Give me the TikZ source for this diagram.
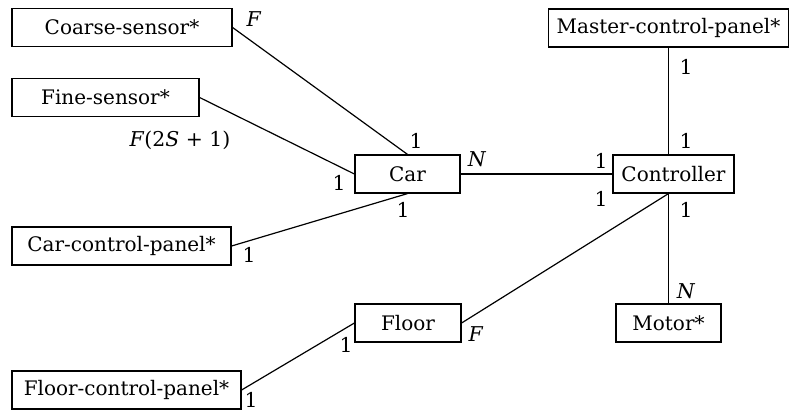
\documentclass[tikz,border=0pt]{standalone}
\usepackage{fontspec}
\setmainfont{DejaVu Serif}
\usetikzlibrary{positioning}
\tikzset{
  entity/.style={
    draw,
    line width=0.6pt,
    inner sep=0pt,
    minimum height=19pt,
    align=center,
    font=\fontsize{10}{12}\selectfont
  },
  mult/.style={
    inner sep=0pt,
    font=\fontsize{10.2}{12}\selectfont
  },
  link/.style={
    line width=0.6pt
  }
}

\begin{document}
\begin{tikzpicture}[x=0.5pt,y=-0.5pt]
\useasboundingbox (0,0) rectangle (789,411);
% entities
\node[entity, minimum width=110pt] (coarse) at (122,27.5) {Coarse-sensor*};
\node[entity, minimum width=93.5pt] (fine) at (105.5,97.5) {Fine-sensor*};
\node[entity, minimum width=109.5pt] (carpanel) at (121.5,246) {Car-control-panel*};
\node[entity, minimum width=114.5pt] (floorpanel) at (126.5,390) {Floor-control-panel*};
\node[entity, minimum width=120pt] (master) at (668.5,28) {Master-control-panel*};
\node[entity, minimum width=52.5pt] (car) at (407.5,174) {Car};
\node[entity, minimum width=60.5pt] (ctrl) at (673.5,174) {Controller};
\node[entity, minimum width=53pt] (floor) at (408,323) {Floor};
\node[entity, minimum width=52.5pt] (motor) at (668.5,323) {Motor*};
% relationships
\draw[link] (coarse.east) -- (car.north);
\draw[link] (fine.east) -- (car.west);
\draw[link] (carpanel.east) -- (car.south);
\draw[link] (floorpanel.east) -- (floor.west);
\draw[link] (car.east) -- (ctrl.west);
\draw[link] (floor.east) -- (motor.north |- ctrl.south);
\draw[link] (master.south) -- (master.south |- ctrl.north);
\draw[link] (motor.north |- ctrl.south) -- (motor.north);
% multiplicities
\node[mult] (m1) at (254,19) {\textit{F}};
\node[mult] (m2) at (180,140) {\textit{F}(2\textit{S} + 1)};
\node[mult] (m3) at (416,141) {1};
\node[mult] (m4) at (339,183) {1};
\node[mult] (m5) at (477,159) {\textit{N}};
\node[mult] (m6) at (601,161) {1};
\node[mult] (m7) at (686,67) {1};
\node[mult] (m8) at (686,141) {1};
\node[mult] (m9) at (403,210) {1};
\node[mult] (m10) at (601,199) {1};
\node[mult] (m11) at (686,210) {1};
\node[mult] (m12) at (686,291) {\textit{N}};
\node[mult] (m13) at (476,334) {\textit{F}};
\node[mult] (m14) at (346,345) {1};
\node[mult] (m15) at (249,255) {1};
\node[mult] (m16) at (251,400) {1};
\end{tikzpicture}
\end{document}
